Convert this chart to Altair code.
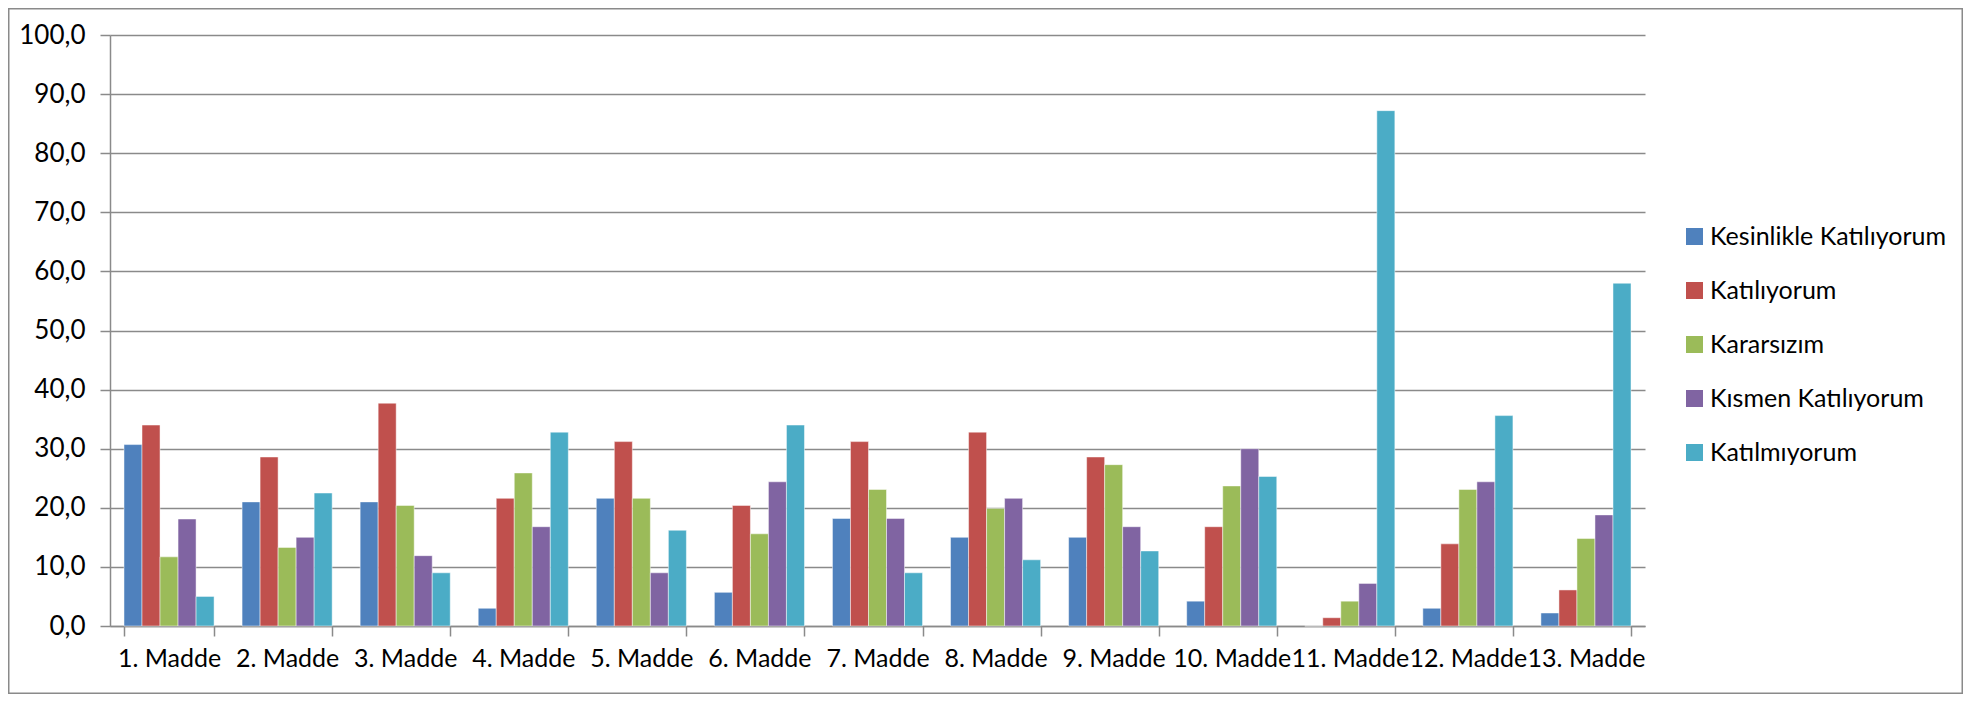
import altair as alt
import pandas as pd

categories = ["1. Madde", "2. Madde", "3. Madde", "4. Madde", "5. Madde", "6. Madde",
              "7. Madde", "8. Madde", "9. Madde", "10. Madde", "11. Madde", "12. Madde", "13. Madde"]
series = ["Kesinlikle Katılıyorum", "Katılıyorum", "Kararsızım", "Kısmen Katılıyorum", "Katılmıyorum"]
colors = ["#4F81BD", "#C0504D", "#9BBB59", "#8064A2", "#4BACC6"]

kesinlikle = [30.7, 21.0, 21.0, 3.0, 21.6, 5.7, 18.2, 15.0, 15.0, 4.2, 0.0, 3.0, 2.2]
katiliyorum = [34.0, 28.6, 37.7, 21.6, 31.2, 20.4, 31.2, 32.8, 28.6, 16.8, 1.4, 13.9, 6.1]
kararsizim = [11.7, 13.3, 20.4, 25.9, 21.6, 15.6, 23.1, 19.9, 27.3, 23.7, 4.2, 23.1, 14.8]
kismen = [18.1, 15.0, 11.9, 16.8, 9.0, 24.4, 18.2, 21.6, 16.8, 30.0, 7.2, 24.4, 18.8]
katilmiyorum = [5.0, 22.5, 9.0, 32.8, 16.2, 34.0, 9.0, 11.2, 12.7, 25.3, 87.2, 35.6, 58.0]

values = [kesinlikle, katiliyorum, kararsizim, kismen, katilmiyorum]
rows = []
for s, vals in zip(series, values):
    for c, v in zip(categories, vals):
        rows.append({"Madde": c, "Seri": s, "Deger": v})
df = pd.DataFrame(rows)

FONT = "Lato"
FS = 25
GRAY = "#8a8a8a"
W, H = 1535, 591
PL, PT, PR, PB = 102, 27, 318, 68

bars = alt.Chart(df).mark_bar(stroke="white", strokeWidth=0.8, strokeOpacity=0.6).encode(
    x=alt.X("Madde:N", sort=categories,
            scale=alt.Scale(paddingInner=0.237, paddingOuter=0.1185),
            axis=alt.Axis(title=None, labelAngle=0, tickBand="extent", tickSize=10,
                          tickColor=GRAY, tickWidth=1.5, domainColor=GRAY, domainWidth=1.5,
                          labelFont=FONT, labelFontSize=FS, labelColor="black",
                          labelPadding=10, grid=False)),
    xOffset=alt.XOffset("Seri:N", sort=series),
    y=alt.Y("Deger:Q", scale=alt.Scale(domain=[0, 100], nice=False),
            axis=alt.Axis(title=None, values=list(range(0, 101, 10)),
                          labelExpr="replace(format(datum.value, '.1f'), '.', ',')",
                          tickSize=10, tickColor=GRAY, tickWidth=1.5,
                          domainColor=GRAY, domainWidth=1.5,
                          gridColor=GRAY, gridWidth=1.5, grid=True,
                          labelFont=FONT, labelFontSize=FS + 1, labelColor="black",
                          labelPadding=15)),
    color=alt.Color("Seri:N", sort=series,
                    scale=alt.Scale(domain=series, range=colors),
                    legend=alt.Legend(orient="none", legendX=1572, legendY=189, title=None,
                                      symbolType="square", symbolSize=289, symbolStrokeWidth=0,
                                      labelFont=FONT, labelFontSize=FS, labelColor="black",
                                      labelOffset=3, rowPadding=28, padding=0, labelLimit=500)),
)

frame = alt.Chart(pd.DataFrame({"a": [0]})).mark_rect(
    filled=False, stroke=GRAY, strokeWidth=1.5
).encode(
    x=alt.value(-PL + 0.75), x2=alt.value(W + PR - 0.75),
    y=alt.value(-PT + 0.75), y2=alt.value(H + PB - 0.75),
)

chart = alt.layer(bars, frame).properties(
    width=W, height=H,
    autosize=alt.AutoSizeParams(type="none"),
    padding={"left": PL, "top": PT, "right": PR, "bottom": PB},
    background="white",
).configure_view(stroke=None)

chart.save("out.html", embed_options={"renderer": "svg", "actions": False})
